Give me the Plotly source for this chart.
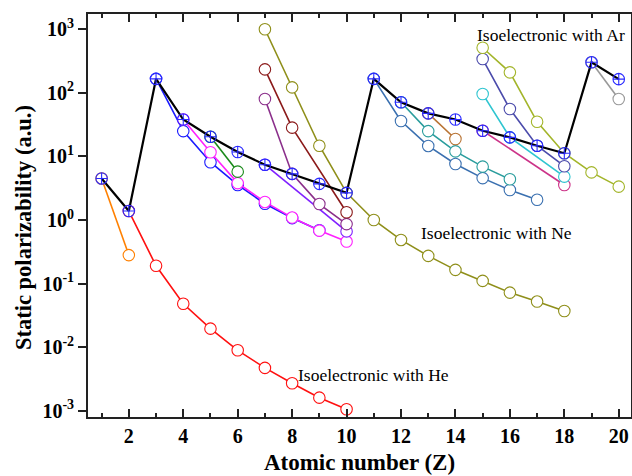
import plotly.graph_objects as go

# ---- data ----
neutral_Z = list(range(1, 21))
neutral = [4.5, 1.38, 166, 38, 20.4, 11.7, 7.4, 5.3, 3.7, 2.67,
           166, 71, 47.5, 38, 25.3, 19.9, 14.7, 11.2, 302, 164]

H_Z = [1, 2];              H_val = [4.5, 0.28]
He_Z = list(range(2, 11)); He_val = [1.38, 0.19, 0.048, 0.0195, 0.0089, 0.0047, 0.0027, 0.0016, 0.00105]
Li_Z = list(range(3, 10)); Li_val = [166, 25, 8.1, 3.55, 1.8, 1.07, 0.69]
Be_Z = list(range(4, 11)); Be_val = [38, 11.6, 3.8, 1.92, 1.09, 0.68, 0.457]
B_Z = [5, 6];              B_val = [20.4, 5.75]
N_Z = [7, 10];             N_val = [7.4, 0.66]
O_Z = [7, 8, 9, 10];       O_val = [80, 5.3, 1.78, 0.86]
F_Z = [7, 8, 10];          F_val = [234, 28.3, 1.32]
Ne_Z = list(range(7, 19)); Ne_val = [1000, 122, 14.7, 2.67, 1.0, 0.485, 0.272, 0.164, 0.11, 0.072, 0.052, 0.037]
Na_Z = list(range(11, 18)); Na_val = [166, 36, 14.6, 7.6, 4.55, 2.96, 2.08]
Mg_Z = list(range(12, 17)); Mg_val = [71, 25, 12.0, 6.9, 4.36]
Al_Z = [13, 14];           Al_val = [47.5, 18.8]
P_Z = [15, 18];            P_val = [25.3, 3.55]
S_Z = [15, 16, 18];        S_val = [96, 19.9, 4.8]
Cl_Z = [15, 16, 17, 18];   Cl_val = [340, 55.6, 14.7, 7.0]
Ar_Z = list(range(15, 21)); Ar_val = [512, 210, 35, 11.2, 5.6, 3.34]
K_Z = [19, 20];            K_val = [302, 80]

x_ticks = [2, 4, 6, 8, 10, 12, 14, 16, 18, 20]
x_ticktext = ["<b>%d</b>" % v for v in x_ticks]
y_ticks = [1e-3, 1e-2, 1e-1, 1e0, 1e1, 1e2, 1e3]
y_ticktext = ["<b>10<sup>-3</sup></b>", "<b>10<sup>-2</sup></b>", "<b>10<sup>-1</sup></b>",
              "<b>10<sup>0</sup></b>", "<b>10<sup>1</sup></b>", "<b>10<sup>2</sup></b>",
              "<b>10<sup>3</sup></b>"]

series = [
    (H_Z, H_val, "#ff8000"),
    (He_Z, He_val, "#ff1010"),
    (Li_Z, Li_val, "#1a1aff"),
    (Be_Z, Be_val, "#ff20ff"),
    (B_Z, B_val, "#1a8a1a"),
    (N_Z, N_val, "#8020ff"),
    (O_Z, O_val, "#8b2f8b"),
    (F_Z, F_val, "#8b1a1a"),
    (Ne_Z, Ne_val, "#8f8f1a"),
    (Na_Z, Na_val, "#3a70b0"),
    (Mg_Z, Mg_val, "#2a9d9d"),
    (Al_Z, Al_val, "#b87333"),
    (P_Z, P_val, "#cc3388"),
    (S_Z, S_val, "#2fc5d0"),
    (Cl_Z, Cl_val, "#4b4bab"),
    (Ar_Z, Ar_val, "#a3b52a"),
    (K_Z, K_val, "#999999"),
]

fig = go.Figure()
for zs, vals, col in series:
    fig.add_trace(go.Scatter(
        x=zs, y=vals, mode="lines+markers",
        line=dict(color=col, width=1.6),
        marker=dict(symbol="circle", size=11.5, color="white",
                    line=dict(color=col, width=1.1)),
        showlegend=False))

fig.add_trace(go.Scatter(
    x=neutral_Z, y=neutral, mode="lines+markers",
    line=dict(color="black", width=2.2),
    marker=dict(symbol="circle-cross-open", size=11.5, color="#2a2aff",
                line=dict(color="#2a2aff", width=1.1)),
    showlegend=False))

serif = "Liberation Serif, Times New Roman, serif"
ann_font = dict(family=serif, size=17.5, color="black")
fig.add_annotation(x=17.52, y=2.91, xref="x", yref="y", text="Isoelectronic with Ar",
                   showarrow=False, font=ann_font)
fig.add_annotation(x=15.52, y=-0.204, xref="x", yref="y", text="Isoelectronic with Ne",
                   showarrow=False, font=ann_font)
fig.add_annotation(x=11.0, y=-2.437, xref="x", yref="y", text="Isoelectronic with He",
                   showarrow=False, font=ann_font)

# y-axis title placed as a rotated annotation (reference title sits below axis centre)
fig.add_annotation(x=(23 - 88) / 543, y=(417 - 228) / 403, xref="paper", yref="paper",
                   text="<b>Static polarizability (a.u.)</b>", textangle=-90,
                   showarrow=False, xanchor="center", yanchor="middle",
                   font=dict(family=serif, size=22.5, color="black"))

tick_font = dict(family=serif, size=20, color="black")
title_font = dict(family=serif, size=23, color="black")

fig.update_layout(
    width=632, height=476,
    margin=dict(l=88, r=1, t=14, b=59, autoexpand=False),
    paper_bgcolor="white", plot_bgcolor="white",
    font=dict(family=serif, size=20, color="black"),
    xaxis=dict(
        range=[0.5, 20.45], tickvals=x_ticks, ticktext=x_ticktext,
        ticks="inside", ticklen=8, tickwidth=1.5,
        tickcolor="#222", showline=True, linecolor="#222", linewidth=1.8, mirror="ticks",
        showgrid=False, zeroline=False, automargin=False,
        minor=dict(dtick=1, ticks="inside", ticklen=4, tickwidth=1.5, tickcolor="#222", showgrid=False),
        tickfont=tick_font,
        title=dict(text="<b>Atomic number (Z)</b>", font=title_font, standoff=8),
    ),
    yaxis=dict(
        type="log", range=[-3.1, 3.24], tickvals=y_ticks, ticktext=y_ticktext,
        ticks="outside", ticklen=8, tickwidth=1.5, tickcolor="#222",
        showline=True, linecolor="#222", linewidth=1.8, mirror=True,
        showgrid=False, zeroline=False, automargin=False, tickfont=tick_font,
    ),
)

fig.write_html("out.html", config={"displayModeBar": False},
               post_script="document.body.style.margin='0';document.body.style.overflow='hidden';")
